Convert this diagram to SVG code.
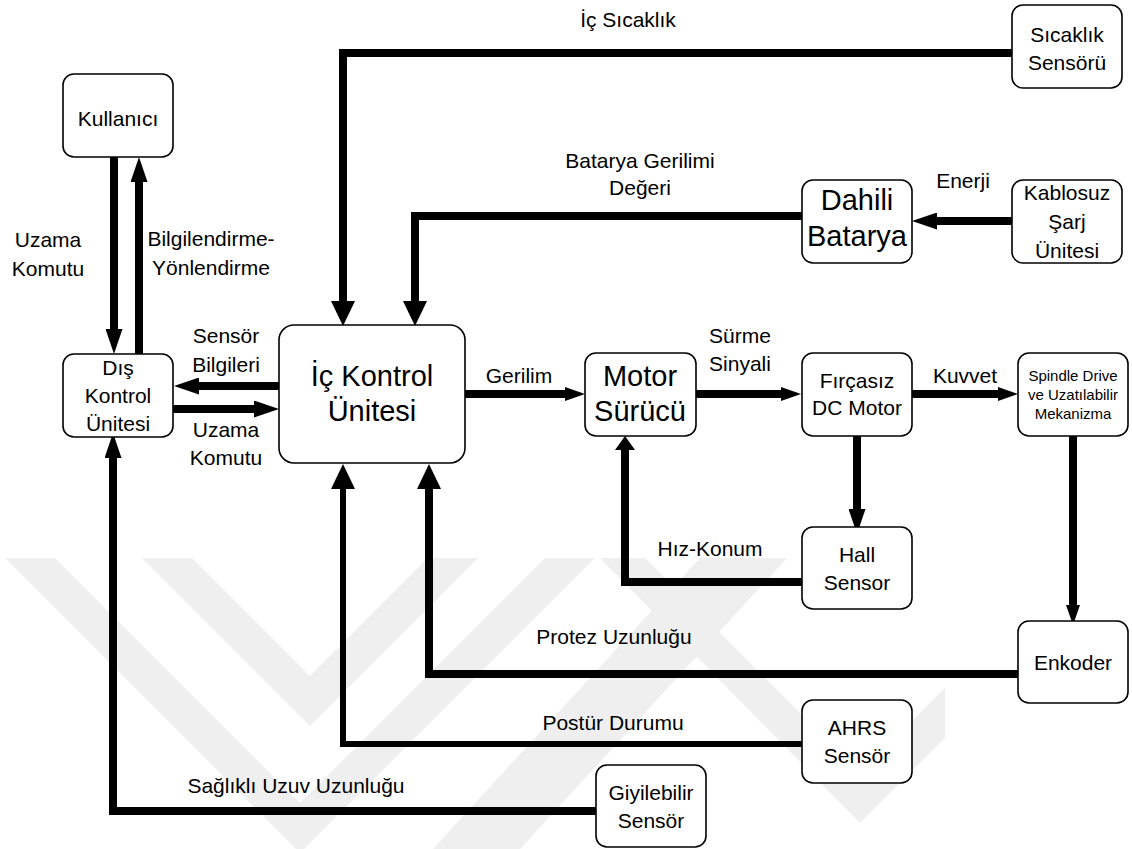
<svg xmlns="http://www.w3.org/2000/svg" width="1132" height="849" viewBox="0 0 1132 849">
<style>
.box{fill:#fff;stroke:#000;stroke-width:1.6}
.t{font-family:"Liberation Sans",Arial,sans-serif;font-size:21px;fill:#000;text-anchor:middle}
.big{font-size:29px}
.sm{font-size:15px}
.c{fill:none;stroke:#000;stroke-width:8;stroke-linejoin:miter}
.thin{stroke-width:6}
.wm{fill:#efefef}
</style>
<defs>
<marker id="aL" markerUnits="userSpaceOnUse" markerWidth="25" markerHeight="24" refX="0" refY="12" orient="auto" viewBox="0 0 25 24"><path d="M0,0 L25,12 L0,24 z" fill="#000"/></marker>
<marker id="aM" markerUnits="userSpaceOnUse" markerWidth="25" markerHeight="17" refX="0" refY="8.5" orient="auto" viewBox="0 0 25 17"><path d="M0,0 L25,8.5 L0,17 z" fill="#000"/></marker>
<marker id="aS" markerUnits="userSpaceOnUse" markerWidth="20" markerHeight="14" refX="0" refY="7" orient="auto" viewBox="0 0 20 14"><path d="M0,0 L20,7 L0,14 z" fill="#000"/></marker>
<marker id="aW" markerUnits="userSpaceOnUse" markerWidth="14" markerHeight="20" refX="0" refY="10" orient="auto" viewBox="0 0 14 20"><path d="M0,0 L14,10 L0,20 z" fill="#000"/></marker>
</defs>
<rect width="1132" height="849" fill="#fff"/>
<g id="watermark">
<polygon class="wm" points="5,558 55,558 300,803 545,558 595,558 300,853"/>
<polygon class="wm" points="142,558 192,558 310,676 428,558 478,558 310,726"/>
<polygon class="wm" points="600,558 645,558 860,773 945,688 945,738 860,823"/>
<polygon class="wm" points="700,558 787,558 520,849 433,849"/>
</g>
<g id="connectors">
<path class="c" d="M1012,53 H343 V301" marker-end="url(#aL)"/>
<path class="c" d="M802,216 H415 V301" marker-end="url(#aL)"/>
<path class="c" d="M1012,221 H937" marker-end="url(#aM)"/>
<path class="c" d="M114,157 V329" marker-end="url(#aM)"/>
<path class="c" d="M139,354 V182" marker-end="url(#aM)"/>
<path class="c" d="M279,386 H199" marker-end="url(#aM)"/>
<path class="c" d="M173,409 H254" marker-end="url(#aM)"/>
<path class="c" d="M465,394 H565" marker-end="url(#aS)"/>
<path class="c" d="M696,394 H781" marker-end="url(#aS)"/>
<path class="c" d="M912,394 H998" marker-end="url(#aS)"/>
<path class="c" d="M857,436 V509" marker-end="url(#aM)"/>
<path class="c" d="M1073,436 V605" marker-end="url(#aS)"/>
<path class="c" d="M802,582 H625 V450" marker-end="url(#aW)"/>
<path class="c" d="M1018,674 H429 V489" marker-end="url(#aL)"/>
<path class="c thin" d="M802,744 H343 V489" marker-end="url(#aL)"/>
<path class="c" d="M596,811 H113 V458" marker-end="url(#aM)"/>
</g>
<g id="labels">
<text class="t" x="628" y="27">İç Sıcaklık</text>
<text class="t" x="640" y="168">Batarya Gerilimi</text>
<text class="t" x="640" y="195">Değeri</text>
<text class="t" x="963" y="188">Enerji</text>
<text class="t" x="48" y="247">Uzama</text>
<text class="t" x="48" y="276">Komutu</text>
<text class="t" x="211" y="246">Bilgilendirme-</text>
<text class="t" x="211" y="275">Yönlendirme</text>
<text class="t" x="226" y="343">Sensör</text>
<text class="t" x="226" y="372">Bilgileri</text>
<text class="t" x="226" y="437">Uzama</text>
<text class="t" x="226" y="465">Komutu</text>
<text class="t" x="519" y="383">Gerilim</text>
<text class="t" x="740" y="343">Sürme</text>
<text class="t" x="740" y="371">Sinyali</text>
<text class="t" x="965" y="383">Kuvvet</text>
<text class="t" x="710" y="556">Hız-Konum</text>
<text class="t" x="614" y="644">Protez Uzunluğu</text>
<text class="t" x="613" y="730">Postür Durumu</text>
<text class="t" x="296" y="793">Sağlıklı Uzuv Uzunluğu</text>
</g>
<g id="kullanici"><rect class="box" x="63" y="74" width="110" height="83" rx="11"/><text class="t" x="118" y="126">Kullanıcı</text></g>
<g id="dis-kontrol"><rect class="box" x="63" y="354" width="110" height="83" rx="11"/><text class="t" x="118" y="375">Dış</text><text class="t" x="118" y="403">Kontrol</text><text class="t" x="118" y="431">Ünitesi</text></g>
<g id="ic-kontrol"><rect class="box" x="279" y="325" width="186" height="138" rx="15"/><text class="t big" x="372" y="386">İç Kontrol</text><text class="t big" x="372" y="421">Ünitesi</text></g>
<g id="motor-surucu"><rect class="box" x="585" y="353" width="111" height="83" rx="11"/><text class="t big" x="640" y="386">Motor</text><text class="t big" x="640" y="421">Sürücü</text></g>
<g id="bldc"><rect class="box" x="802" y="353" width="110" height="83" rx="11"/><text class="t" x="857" y="388">Fırçasız</text><text class="t" x="857" y="415">DC Motor</text></g>
<g id="spindle"><rect class="box" x="1018" y="353" width="110" height="83" rx="11"/><text class="t sm" x="1073" y="381">Spindle Drive</text><text class="t sm" x="1073" y="400">ve Uzatılabilir</text><text class="t sm" x="1073" y="419">Mekanizma</text></g>
<g id="sicaklik"><rect class="box" x="1012" y="5" width="110" height="83" rx="11"/><text class="t" x="1067" y="42">Sıcaklık</text><text class="t" x="1067" y="70">Sensörü</text></g>
<g id="batarya"><rect class="box" x="802" y="180" width="110" height="83" rx="11"/><text class="t big" x="857" y="210">Dahili</text><text class="t big" x="857" y="246">Batarya</text></g>
<g id="kablosuz"><rect class="box" x="1012" y="180" width="110" height="83" rx="11"/><text class="t" x="1067" y="200">Kablosuz</text><text class="t" x="1067" y="229">Şarj</text><text class="t" x="1067" y="258">Ünitesi</text></g>
<g id="hall"><rect class="box" x="802" y="527" width="110" height="82" rx="11"/><text class="t" x="857" y="562">Hall</text><text class="t" x="857" y="590">Sensor</text></g>
<g id="enkoder"><rect class="box" x="1018" y="621" width="110" height="82" rx="11"/><text class="t" x="1073" y="670">Enkoder</text></g>
<g id="ahrs"><rect class="box" x="802" y="700" width="110" height="83" rx="11"/><text class="t" x="857" y="735">AHRS</text><text class="t" x="857" y="763">Sensör</text></g>
<g id="giyilebilir"><rect class="box" x="596" y="765" width="110" height="82" rx="11"/><text class="t" x="651" y="800">Giyilebilir</text><text class="t" x="651" y="828">Sensör</text></g>
</svg>
